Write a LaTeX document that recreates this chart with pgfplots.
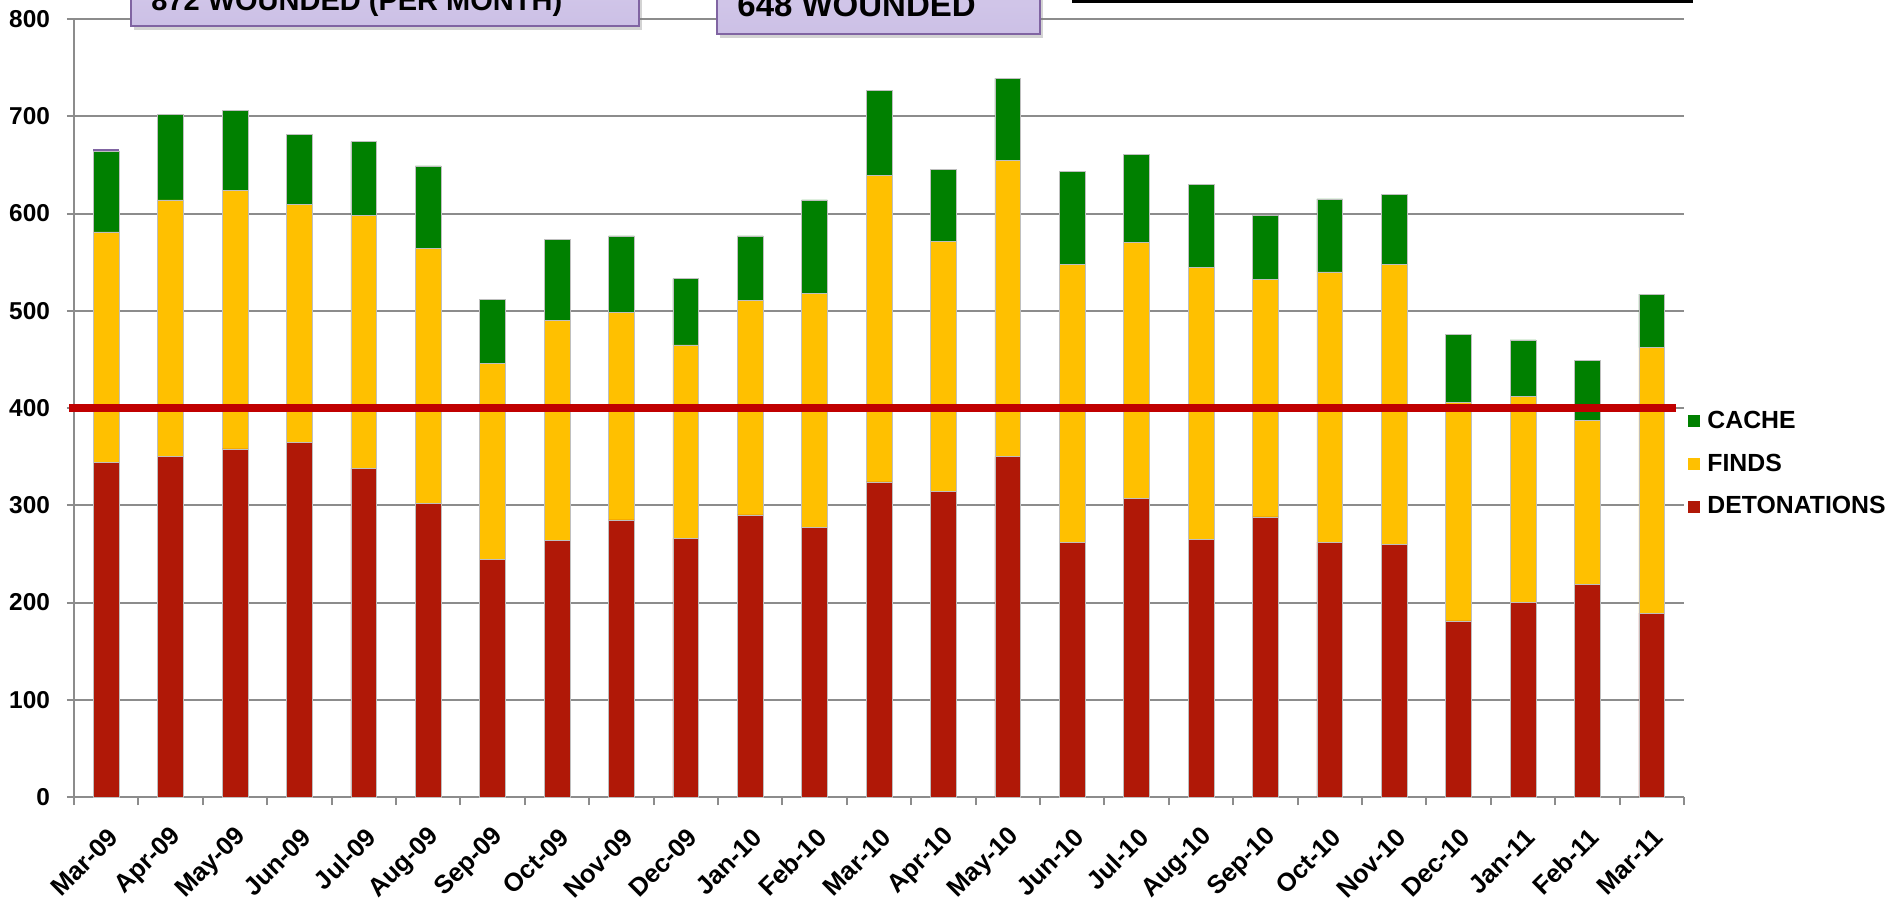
\documentclass[border=0pt]{standalone}
\usepackage{pgfplots}
\pgfplotsset{compat=1.18}
\usepackage{fontspec}
\setmainfont{Liberation Sans}
\usetikzlibrary{shadows}
\definecolor{detc}{HTML}{B01807}
\definecolor{findc}{HTML}{FFC000}
\definecolor{cachec}{HTML}{008000}
\definecolor{gridc}{HTML}{8C8C8C}
\definecolor{linec}{HTML}{C00000}
\definecolor{boxfill}{HTML}{CCC0E6}
\definecolor{boxdraw}{HTML}{8064A2}
\begin{document}
\begin{tikzpicture}
\begin{axis}[
  at={(0,0)}, anchor=south west,
  scale only axis,
  width=805pt, height=389pt,
  ybar stacked,
  bar width=0.4,
  xmin=-0.5, xmax=24.5,
  ymin=0, ymax=800,
  clip=false,
  axis x line=bottom, axis y line=left,
  axis line style={-, draw=gridc, line width=1pt},
  tick align=outside,
  ytick={0,100,...,800},
  ymajorgrids,
  grid style={draw=gridc, line width=1pt},
  major tick length=3.5pt,
  y tick style={draw=gridc, line width=1pt},
  xtick={0,...,24},
  xticklabels={Mar-09,Apr-09,May-09,Jun-09,Jul-09,Aug-09,Sep-09,Oct-09,Nov-09,Dec-09,Jan-10,Feb-10,Mar-10,Apr-10,May-10,Jun-10,Jul-10,Aug-10,Sep-10,Oct-10,Nov-10,Dec-10,Jan-11,Feb-11,Mar-11},
  x tick style={draw=none},
  minor xtick={-0.5,0.5,...,24.5},
  minor x tick style={draw=gridc, line width=1pt},
  minor tick length=4pt,
  /pgf/number format/assume math mode=true,
  yticklabel style={xshift=-5pt, font=\fontsize{12.2}{14}\selectfont\bfseries},
  xticklabel style={xshift=6pt, yshift=-12pt, rotate=45, anchor=east, font=\fontsize{12.8}{14}\selectfont\bfseries},
  reverse legend,
  legend cell align=left,
  legend image code/.code={\fill[#1, draw=none] (0pt,-3pt) rectangle (6pt,3pt);},
  legend style={at={(1.0025,0.4964)}, anchor=north west, draw=none, fill=none,
     inner sep=0pt, row sep=11.2pt, column sep=3.5pt,
     nodes={inner sep=0pt, font=\fontsize{12.4}{14}\selectfont\bfseries}},
]
\addplot[fill=detc, draw=black!25, line width=0.3pt] coordinates {
(0,344) (1,350) (2,358) (3,365) (4,338) (5,302) (6,244) (7,264) (8,285) (9,266)
(10,290) (11,277) (12,324) (13,314) (14,350) (15,262) (16,307) (17,265) (18,288) (19,262)
(20,260) (21,181) (22,200) (23,219) (24,189)};
\addlegendentry{DETONATIONS}
\addplot[fill=findc, draw=black!25, line width=0.3pt] coordinates {
(0,237) (1,264) (2,266) (3,244) (4,260) (5,262) (6,202) (7,226) (8,213) (9,199)
(10,221) (11,241) (12,315) (13,257) (14,305) (15,286) (16,263) (17,280) (18,244) (19,278)
(20,288) (21,225) (22,212) (23,168) (24,273)};
\addlegendentry{FINDS}
\addplot[fill=cachec, draw=black!25, line width=0.3pt] coordinates {
(0,83) (1,88) (2,82) (3,72) (4,76) (5,85) (6,66) (7,83) (8,79) (9,68)
(10,66) (11,96) (12,88) (13,74) (14,84) (15,95) (16,91) (17,85) (18,66) (19,75)
(20,72) (21,70) (22,58) (23,62) (24,55)};
\addlegendentry{CACHE}
\addplot[fill=boxdraw, draw=none, forget plot] coordinates {
(0,2) (1,0) (2,0) (3,0) (4,0) (5,0) (6,0) (7,0) (8,0) (9,0)
(10,0) (11,0) (12,0) (13,0) (14,0) (15,0) (16,0) (17,0) (18,0) (19,0)
(20,0) (21,0) (22,0) (23,0) (24,0)};
\end{axis}
% reference line at 400 (drawn over the bars)
\begin{axis}[
  at={(0,0)}, anchor=south west,
  scale only axis,
  width=805pt, height=389pt,
  xmin=-0.5, xmax=24.5,
  ymin=0, ymax=800,
  clip=false, axis lines=none,
]
\addplot[linec, line width=4pt, mark=none] coordinates {(-0.57,400) (24.38,400)};
\end{axis}
% annotation boxes (cut by the top of the picture)
\draw[boxdraw, line width=1pt, top color=boxfill!70, bottom color=boxfill, drop shadow={opacity=0.35, shadow xshift=1.5pt, shadow yshift=-2pt}]
  (28.5pt,385.5pt) rectangle (282.5pt,440pt);
\node[anchor=base west, inner sep=0pt, font=\fontsize{14.5}{16}\selectfont\bfseries] at (38.5pt,393pt) {872 WOUNDED (PER MONTH)};
\draw[boxdraw, line width=1pt, top color=boxfill!70, bottom color=boxfill, drop shadow={opacity=0.35, shadow xshift=1.5pt, shadow yshift=-2pt}]
  (321.5pt,381.5pt) rectangle (483pt,440pt);
\node[anchor=base west, inner sep=0pt, font=\fontsize{16.5}{18}\selectfont\bfseries] at (331.5pt,390pt) {648 WOUNDED};
\draw[black, line width=1.3pt, fill=white] (499.5pt,397.6pt) rectangle (809pt,440pt);
\pgfresetboundingbox
\path[use as bounding box] (-37pt,-52pt) rectangle (909.5pt,398.5pt);
\end{tikzpicture}
\end{document}
